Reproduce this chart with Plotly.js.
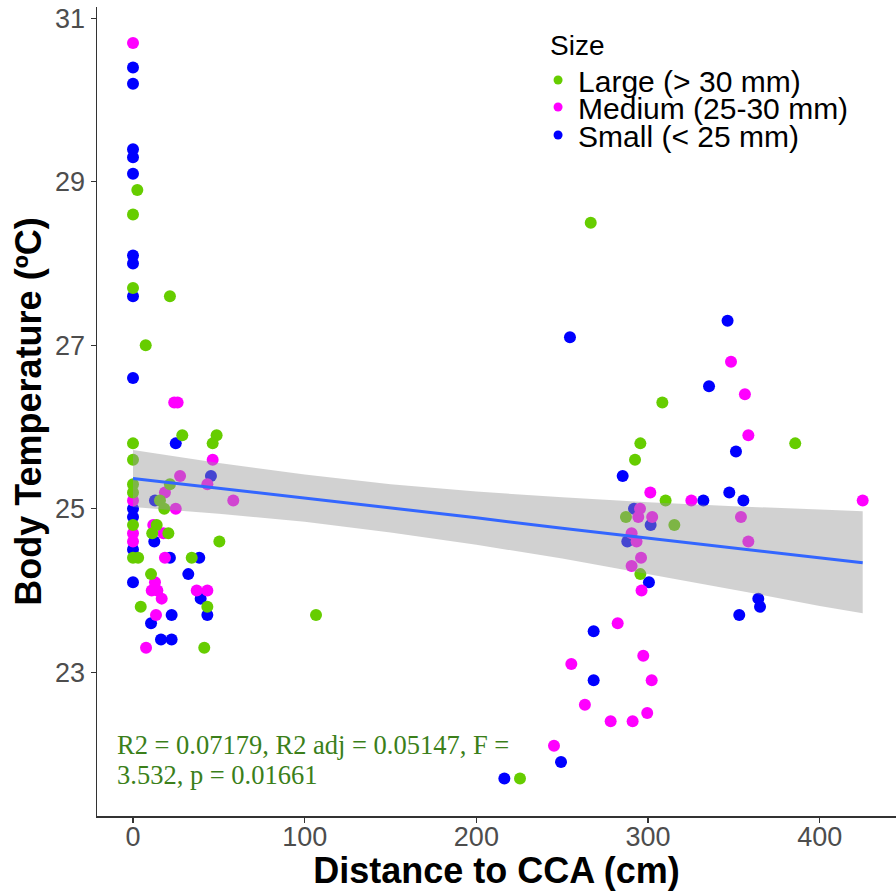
<!DOCTYPE html>
<html>
<head>
<meta charset="utf-8">
<script src="https://cdn.plot.ly/plotly-3.0.1.min.js"></script>
<style>html,body{margin:0;padding:0;background:#fff;}</style>
</head>
<body>
<div id="chart" style="width:896px;height:891px;"></div>
<script>
// ---- Data ----
var sizeLabels = ["Large (> 30 mm)", "Medium (25-30 mm)", "Small (< 25 mm)"];

var largeX = [2.5, 0, 0, 21.5, 7.4, 28.7, 48.7, 0, 46.4, 0, 0, 21.5, 0, 15.7, 18.2, 0, 13.8, 11.2, 20.6, 50.3, 0, 3, 34.2, 10.5, 4.5, 43.3, 41.5, 106.6, 266.6, 308.3, 295.5, 292.4, 310.2, 287.1, 315.3, 295.5, 225.4, 385.7];
var largeY = [28.9, 28.6, 27.7, 27.6, 27.0, 25.9, 25.9, 25.8, 25.8, 25.6, 25.3, 25.3, 25.2, 25.1, 25.0, 24.8, 24.8, 24.7, 24.7, 24.6, 24.4, 24.4, 24.4, 24.2, 23.8, 23.8, 23.3, 23.7, 28.5, 26.3, 25.8, 25.6, 25.1, 24.9, 24.8, 24.2, 21.7, 25.8];

var mediumX = [0, 24, 26, 46.4, 27.4, 43.3, 18.6, 0, 58.4, 24.9, 11.8, 0, 17.7, 0, 18.6, 12.8, 10.9, 14.2, 37.1, 43.3, 16.7, 13.4, 7.6, 301.3, 325.2, 295.3, 294.3, 302.4, 290.4, 293.3, 295.9, 290.4, 296.2, 282.3, 297.2, 255.3, 302.1, 263.2, 278.2, 291.0, 299.5, 245.2, 348.3, 356.4, 358.4, 354.1, 358.4, 425];
var mediumY = [30.7, 26.3, 26.3, 25.6, 25.4, 25.3, 25.2, 25.1, 25.1, 25.0, 24.8, 24.7, 24.7, 24.6, 24.4, 24.1, 24.0, 24.0, 24.0, 24.0, 23.9, 23.7, 23.3, 25.2, 25.1, 25.0, 24.9, 24.9, 24.7, 24.6, 24.4, 24.3, 24.0, 23.6, 23.2, 23.1, 22.9, 22.6, 22.4, 22.4, 22.5, 22.1, 26.8, 26.4, 25.9, 24.9, 24.6, 25.1];

var smallX = [0, 0, 0, 0, 0, 0, 0, 0, 0, 24.9, 45.4, 12.8, 0, 0, 12.4, 0, 21.5, 38.6, 32.2, 0, 39.4, 22.5, 43.3, 10.5, 16.3, 22.5, 254.5, 285.2, 332.2, 291.8, 301.5, 287.9, 300.5, 268.3, 268.3, 249.3, 216.3, 346.3, 335.5, 351.2, 347.3, 355.5, 364.2, 365.2, 353.1];
var smallY = [30.4, 30.2, 29.4, 29.3, 29.1, 28.1, 28.0, 27.6, 26.6, 25.8, 25.4, 25.1, 25.0, 24.9, 24.6, 24.5, 24.4, 24.4, 24.2, 24.1, 23.9, 23.7, 23.7, 23.6, 23.4, 23.4, 27.1, 25.4, 25.1, 25.0, 24.8, 24.6, 24.1, 23.5, 22.9, 21.9, 21.7, 27.3, 26.5, 25.7, 25.2, 25.1, 23.9, 23.8, 23.7];

// fitted line and its confidence band
var fitX   = [0, 50, 100, 150, 200, 250, 300, 350, 400, 425];
var fitY   = [25.37, 25.25, 25.13, 25.01, 24.89, 24.76, 24.64, 24.52, 24.40, 24.34];
var fitUp  = [25.72, 25.56, 25.42, 25.30, 25.21, 25.14, 25.08, 25.03, 24.99, 24.97];
var fitLow = [25.02, 24.94, 24.84, 24.71, 24.56, 24.39, 24.20, 24.01, 23.81, 23.72];

var xTicks = [0, 100, 200, 300, 400];
var yTicks = [23, 25, 27, 29, 31];
var statLine1 = "R2 = 0.07179, R2 adj = 0.05147, F =";
var statLine2 = "3.532, p = 0.01661";

// ---- Style ----
var colLarge = "#66CD00", colMedium = "#FF00FF", colSmall = "#0000FF";
var FONT = "Liberation Sans, Arial, Helvetica, sans-serif";
var SERIF = "Liberation Serif, Times New Roman, serif";

function pts(x, y, c) {
  return {type: "scatter", mode: "markers", x: x, y: y, showlegend: false, hoverinfo: "x+y",
          marker: {color: c, size: 12, line: {width: 0}}};
}
function key(name, c, lg) {
  return {type: "scatter", mode: "markers", x: [null], y: [null], name: name, legend: lg,
          showlegend: true, marker: {color: c, size: 9}};
}

var bandX = fitX.concat(fitX.slice().reverse());
var bandY = fitUp.concat(fitLow.slice().reverse());

var traces = [
  pts(smallX, smallY, colSmall),
  pts(mediumX, mediumY, colMedium),
  pts(largeX, largeY, colLarge),
  {type: "scatter", mode: "lines", x: bandX, y: bandY, fill: "toself",
   fillcolor: "rgba(153,153,153,0.45)", line: {width: 0}, showlegend: false, hoverinfo: "skip"},
  {type: "scatter", mode: "lines", x: fitX, y: fitY, line: {color: "#3366FF", width: 3},
   showlegend: false, hoverinfo: "skip"},
  key(sizeLabels[0], colLarge, "legend"),
  key(sizeLabels[1], colMedium, "legend2"),
  key(sizeLabels[2], colSmall, "legend3")
];

function lg(y) {
  return {x: 0.552, xanchor: "left", y: y, yanchor: "middle", bgcolor: "rgba(0,0,0,0)",
          borderwidth: 0, font: {family: FONT, size: 30, color: "#000"}, itemclick: false};
}

var layout = {
  width: 896, height: 891,
  margin: {l: 97, r: 0, t: 7, b: 75, pad: 0},
  paper_bgcolor: "#fff", plot_bgcolor: "#fff",
  font: {family: FONT},
  xaxis: {
    range: [-20.97, 444.4], tickvals: xTicks, ticktext: xTicks.map(String),
    ticks: "outside", ticklen: 5, tickwidth: 1.2, tickcolor: "#333", ticklabelstandoff: -9,
    showline: true, linecolor: "#333", linewidth: 1.5, mirror: false,
    showgrid: false, zeroline: false,
    tickfont: {family: FONT, size: 27, color: "#4D4D4D"},
    title: {text: "Distance to CCA (cm)", font: {family: FONT, size: 36, color: "#000", weight: 700}, standoff: 16}
  },
  yaxis: {
    range: [21.24, 31.14], tickvals: yTicks, ticktext: yTicks.map(String),
    ticks: "outside", ticklen: 5, tickwidth: 1.2, tickcolor: "#333",
    showline: true, linecolor: "#333", linewidth: 1.5,
    showgrid: false, zeroline: false,
    tickfont: {family: FONT, size: 27, color: "#4D4D4D"},
    title: {text: "Body Temperature (ºC)", font: {family: FONT, size: 36, color: "#000", weight: 700}, standoff: 2}
  },
  legend: lg(0.9098),
  legend2: lg(0.8764),
  legend3: lg(0.8418),
  annotations: [
    {xref: "paper", yref: "paper", x: 0.5645, y: 0.953, xanchor: "left", yanchor: "middle",
     text: "Size", showarrow: false, font: {family: FONT, size: 28, color: "#000"}},
    {xref: "paper", yref: "paper", x: 0.023, y: 0.0878, xanchor: "left", yanchor: "middle",
     text: statLine1, showarrow: false, font: {family: SERIF, size: 26.5, color: "#3B7F1A"}},
    {xref: "paper", yref: "paper", x: 0.023, y: 0.0507, xanchor: "left", yanchor: "middle",
     text: statLine2, showarrow: false, font: {family: SERIF, size: 26.5, color: "#3B7F1A"}}
  ],
  showlegend: true
};

Plotly.newPlot("chart", traces, layout, {displayModeBar: false, staticPlot: true});
</script>
</body>
</html>
